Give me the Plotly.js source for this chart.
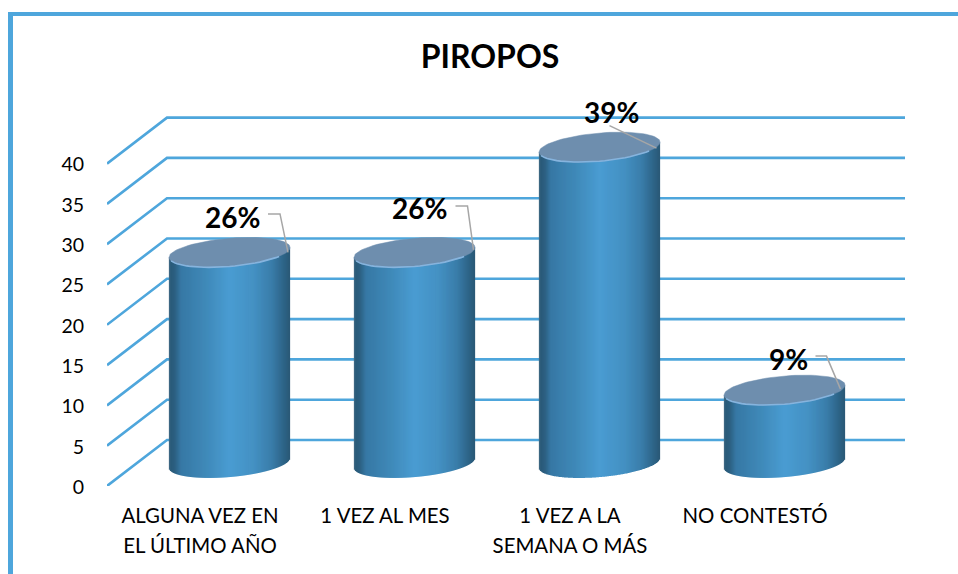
<!DOCTYPE html>
<html>
<head>
<meta charset="utf-8">
<script src="https://cdn.plot.ly/plotly-3.0.1.min.js"></script>
<style>html,body{margin:0;padding:0;background:#fff}</style>
</head>
<body>
<div id="chart" style="width:958px;height:574px"></div>
<script>
// ---- chart data ----
const chartTitle = 'PIROPOS';
const categories = [['ALGUNA VEZ EN', 'EL ÚLTIMO AÑO'], ['1 VEZ AL MES'], ['1 VEZ A LA', 'SEMANA O MÁS'], ['NO CONTESTÓ']];
const values = [26, 26, 39, 9];
const valueLabels = ['26%', '26%', '39%', '9%'];
const yTicks = [0, 5, 10, 15, 20, 25, 30, 35, 40];

// ---- layout constants (pixels) ----
const W = 958, H = 574;
const M = {l: 107, r: 53, t: 100, b: 88};
const catPx = 185, wallPx = 8.06, cylPx = 8.1;
const depthX = 60, depthY = 46;
const xMin = -93 / catPx, xMax = 705 / catPx;
const yMax = (H - M.t - M.b) / wallPx;
const cylBaseAbove = 23;            // cylinder base centre above the front floor line
const cylShift = 29.5;              // cylinder centre right of the category tick
const semiA = 60.5, semiB = 14.1, skew = 5;
const BLUE = '#4EA6DC', GREY = '#A6A6A6';
const FONT = 'Lato, Carlito, "Open Sans", sans-serif';

// label and leader placement, px relative to the centre of each cylinder's top
const labelOffset = [[2.5, -35], [4.5, -44], [12, -35], [3.5, -31.5]];
const leaderOffset = [
  [[38.5, -38.5], [50.5, -38.5], [58.5, 0]],
  [[41, -46.5], [53, -46.5], [59, -2.5]],
  [[10, -21.5], [10, -21.5], [57, 1]],
  [[31, -34], [42, -34], [56, -1]]
];

// side shading: position across the cylinder and colour
const shade = [[0, [70, 110, 135]], [0.015, [42, 90, 120]], [0.05, [44, 96, 130]], [0.1, [55, 120, 165]], [0.3, [63, 137, 184]],
               [0.5, [74, 156, 210]], [0.7, [68, 145, 195]], [0.85, [58, 125, 170]], [0.95, [45, 100, 135]], [1, [42, 88, 118]]];
function shadeAt(t) {
  for (let i = 1; i < shade.length; i++) {
    if (t <= shade[i][0]) {
      const f = (t - shade[i - 1][0]) / (shade[i][0] - shade[i - 1][0]);
      const a = shade[i - 1][1], b = shade[i][1];
      return 'rgb(' + a.map((c, k) => Math.round(c + (b[k] - c) * f)).join(',') + ')';
    }
  }
  return 'rgb(' + shade[shade.length - 1][1].join(',') + ')';
}

const traces = [];

// walls: front-to-back diagonal, then the back wall line
yTicks.forEach(t => {
  traces.push({
    type: 'scatter', mode: 'lines', xaxis: 'x', yaxis: 'y', hoverinfo: 'skip', showlegend: false,
    cliponaxis: false,
    x: [xMin, xMin + depthX / catPx, xMax],
    y: [t, t + depthY / wallPx, t + depthY / wallPx],
    line: {color: BLUE, width: 2.6}
  });
});

const annotations = [];
values.forEach((v, i) => {
  const cx = i + cylShift / catPx;
  const ux = d => cx + d / catPx;
  const uy = d => -d / cylPx;       // pixel offset (down positive) to y2 units
  // cylinder body as one-pixel vertical strips
  const xs = [], tops = [], bases = [], cols = [];
  for (let d = -semiA + 0.5; d < semiA; d += 1) {
    const f = Math.sqrt(Math.max(0, 1 - (d / semiA) * (d / semiA)));
    const sk = skew * d / semiA;
    xs.push(ux(d));
    tops.push(v + sk / cylPx);
    bases.push((sk - semiB * f) / cylPx);
    cols.push(shadeAt((d + semiA) / (2 * semiA)));
  }
  traces.push({
    type: 'bar', xaxis: 'x', yaxis: 'y2', hoverinfo: 'skip', showlegend: false,
    x: xs, base: bases, y: tops.map((t, k) => t - bases[k]), width: 1.25 / catPx,
    marker: {color: cols, line: {width: 0}}
  });
  // top cap
  const ex = [], ey = [], rx = [], ry = [];
  for (let a = 0; a <= 360; a += 4) {
    const r = a * Math.PI / 180;
    const d = semiA * Math.cos(r);
    const yy = v + (skew * Math.cos(r) + semiB * Math.sin(r)) / cylPx;
    ex.push(ux(d)); ey.push(yy);
  }
  for (let a = 195; a <= 325; a += 5) {
    const r = a * Math.PI / 180;
    rx.push(ux(semiA * Math.cos(r)));
    ry.push(v + (skew * Math.cos(r) + semiB * Math.sin(r)) / cylPx);
  }
  traces.push({
    type: 'scatter', mode: 'lines', xaxis: 'x', yaxis: 'y2', hoverinfo: 'skip', showlegend: false,
    x: ex, y: ey, fill: 'toself', fillcolor: '#6E8EAE', line: {color: '#6E8EAE', width: 0.5}
  });
  traces.push({
    type: 'scatter', mode: 'lines', xaxis: 'x', yaxis: 'y2', hoverinfo: 'skip', showlegend: false,
    x: rx, y: ry, line: {color: '#86B4DE', width: 1.6}
  });
  // leader
  traces.push({
    type: 'scatter', mode: 'lines', xaxis: 'x', yaxis: 'y2', hoverinfo: 'skip', showlegend: false,
    cliponaxis: false,
    x: leaderOffset[i].map(p => ux(p[0])),
    y: leaderOffset[i].map(p => v + uy(p[1])),
    line: {color: GREY, width: 1.5}
  });
  annotations.push({
    xref: 'x', yref: 'y2', x: cx, y: v, xshift: labelOffset[i][0], yshift: -labelOffset[i][1],
    text: '<b>' + valueLabels[i] + '</b>', showarrow: false, xanchor: 'center', yanchor: 'middle',
    font: {family: FONT, size: 28, color: '#000'}
  });
});

const plotW = W - M.l - M.r, plotH = H - M.t - M.b;
const px = x => (x - M.l) / plotW;
const py = y => (H - M.b - y) / plotH;

const layout = {
  width: W, height: H, autosize: false, showlegend: false,
  margin: {l: M.l, r: M.r, t: M.t, b: M.b, pad: 0},
  paper_bgcolor: '#fff', plot_bgcolor: 'rgba(0,0,0,0)',
  barmode: 'overlay',
  title: {text: '<b>' + chartTitle + '</b>', x: 490 / W, xanchor: 'center', y: 1 - 57 / H, yanchor: 'middle',
          font: {family: FONT, size: 32, color: '#000'}},
  xaxis: {
    range: [xMin, xMax], tickmode: 'array', tickvals: categories.map((c, i) => i),
    ticktext: categories.map(c => c.map(s => '<span style="font-size:20.4px">' + s + '</span>').join('<br>')),
    tickfont: {family: FONT, size: 23, color: '#000'},
    ticks: 'outside', ticklen: 8, tickcolor: 'rgba(0,0,0,0)', tickangle: 0,
    showgrid: false, zeroline: false, showline: false, fixedrange: true
  },
  yaxis: {
    range: [0, yMax], tickmode: 'array', tickvals: yTicks,
    tickfont: {family: FONT, size: 19.5, color: '#000'},
    ticks: 'outside', ticklen: 18, tickcolor: 'rgba(0,0,0,0)', ticklabelshift: 1,
    showgrid: false, zeroline: false, showline: false, fixedrange: true
  },
  yaxis2: {
    overlaying: 'y', visible: false, fixedrange: true,
    range: [-cylBaseAbove / cylPx, (plotH - cylBaseAbove) / cylPx]
  },
  annotations: annotations,
  shapes: [
    {type: 'rect', xref: 'paper', yref: 'paper', x0: px(8), x1: px(13), y0: py(12), y1: py(574),
     fillcolor: BLUE, line: {width: 0}, layer: 'below'},
    {type: 'rect', xref: 'paper', yref: 'paper', x0: px(8), x1: px(958), y0: py(12), y1: py(16),
     fillcolor: BLUE, line: {width: 0}, layer: 'below'}
  ]
};

Plotly.newPlot('chart', traces, layout, {displayModeBar: false, staticPlot: true});
</script>
</body>
</html>
